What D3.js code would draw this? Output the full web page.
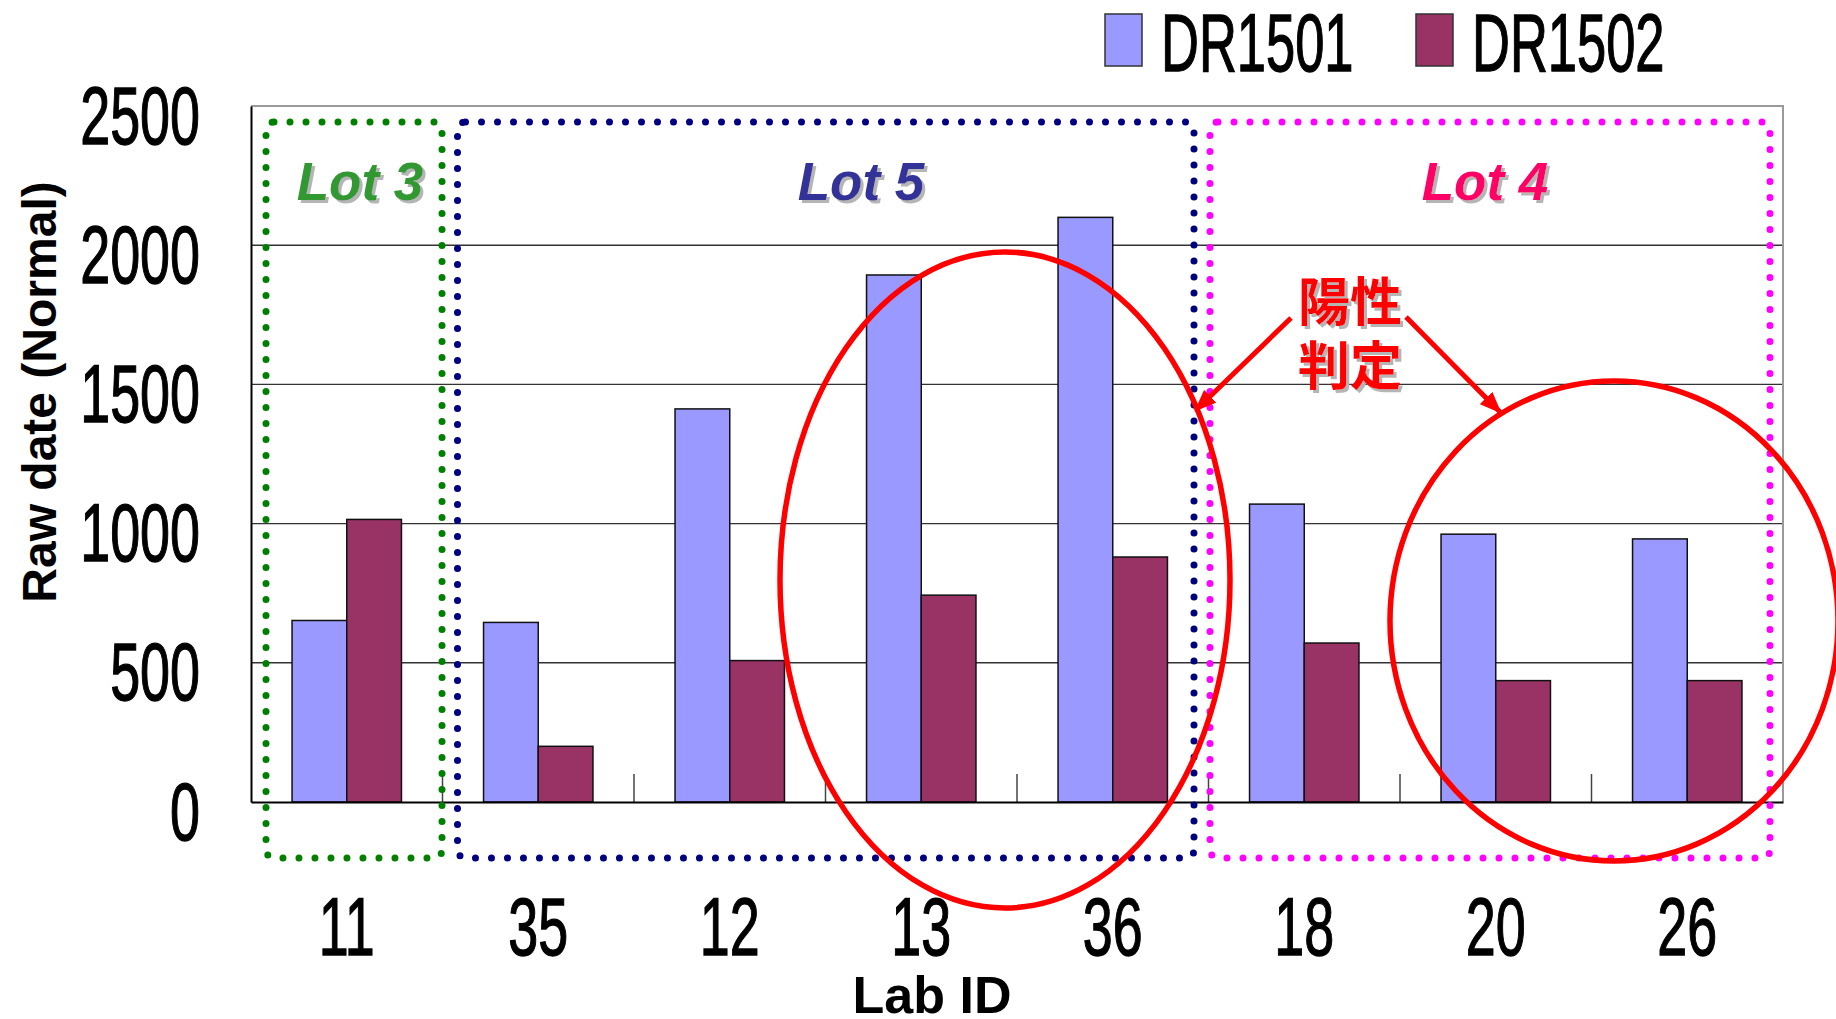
<!DOCTYPE html>
<html>
<head>
<meta charset="utf-8">
<script src="https://cdn.jsdelivr.net/npm/d3@7"></script>
<style>
  html, body { margin: 0; padding: 0; background: #fff; }
  svg { display: block; }
</style>
</head>
<body>
<svg id="chart" width="1836" height="1019"></svg>
<script>
// Lab results per lab, two DR allele probes
const categories = ['11', '35', '12', '13', '36', '18', '20', '26'];
const seriesNames = ['DR1501', 'DR1502'];
const dr1501 = [652, 645, 1412, 1893, 2100, 1070, 962, 945];
const dr1502 = [1015, 200, 508, 743, 880, 571, 436, 436];
const yTicks = [0, 500, 1000, 1500, 2000, 2500];
const seriesColors = ['#9999FF', '#993366'];

// Lot groupings of the labs
const lotNames = ['Lot 3', 'Lot 5', 'Lot 4'];
const lotFirst = ['11', '35', '18'];
const lotLast = ['11', '36', '26'];
const lotBoxColors = ['#008000', '#000080', '#FF00FF'];
const lotTextColors = ['#339933', '#333399', '#FF0066'];

const svg = d3.select('#chart');
const plot = { left: 251, right: 1783, top: 106, bottom: 802 };

const x0 = d3.scaleBand().domain(categories).range([plot.left, plot.right]).padding(0);
const x1 = d3.scaleBand().domain(seriesNames).range([0, x0.bandwidth()])
  .paddingInner(0).paddingOuter(0.75);
const y = d3.scaleLinear().domain([0, 2500]).range([plot.bottom, plot.top]);

const rows = categories.map((c, i) => ({ cat: c, values: [dr1501[i], dr1502[i]] }));

const numFont = '"Liberation Sans", Arial, sans-serif';
const narrow = 0.665;

// Soft grey drop shadow used by the annotation labels
const defs = svg.append('defs');
const shadow = defs.append('filter').attr('id', 'textShadow')
  .attr('x', '-10%').attr('y', '-10%').attr('width', '130%').attr('height', '130%');
shadow.append('feOffset').attr('in', 'SourceAlpha').attr('dx', 3).attr('dy', 3).attr('result', 'off');
shadow.append('feFlood').attr('flood-color', '#b5b5b5').attr('result', 'grey');
shadow.append('feComposite').attr('in', 'grey').attr('in2', 'off').attr('operator', 'in').attr('result', 'sh');
const merge = shadow.append('feMerge');
merge.append('feMergeNode').attr('in', 'sh');
merge.append('feMergeNode').attr('in', 'SourceGraphic');

// Gridlines
svg.append('g').selectAll('line')
  .data(yTicks.filter(t => t > 0 && t < 2500))
  .join('line')
  .attr('x1', plot.left).attr('x2', plot.right)
  .attr('y1', d => y(d)).attr('y2', d => y(d))
  .attr('stroke', '#333').attr('stroke-width', 1.4);

// Plot frame: top and right edges
svg.append('path')
  .attr('d', `M${plot.left},${y(2500)}H${plot.right}V${plot.bottom}`)
  .attr('fill', 'none').attr('stroke', '#9a9a9a').attr('stroke-width', 2);

// Bars
const groups = svg.append('g').selectAll('g')
  .data(rows).join('g')
  .attr('transform', d => `translate(${x0(d.cat)},0)`);
groups.selectAll('rect')
  .data(d => d.values.map((v, k) => ({ key: seriesNames[k], v, k })))
  .join('rect')
  .attr('x', d => x1(d.key))
  .attr('width', x1.bandwidth())
  .attr('y', d => y(d.v))
  .attr('height', d => y(0) - y(d.v))
  .attr('fill', d => seriesColors[d.k])
  .attr('stroke', '#111').attr('stroke-width', 1.5);

// Category separator ticks rising from the x axis
svg.append('g').selectAll('line')
  .data(categories.slice(1))
  .join('line')
  .attr('x1', d => x0(d)).attr('x2', d => x0(d))
  .attr('y1', plot.bottom).attr('y2', plot.bottom - 28)
  .attr('stroke', '#444').attr('stroke-width', 1.5);

// Y axis
const yAxis = svg.append('g')
  .attr('transform', `translate(${plot.left},0)`)
  .call(d3.axisLeft(y).tickValues(yTicks).tickSize(0).tickFormat(d3.format('d')));
yAxis.select('.domain').attr('stroke', '#000').attr('stroke-width', 2);
yAxis.selectAll('text')
  .attr('x', 0).attr('dy', null)
  .attr('transform', `translate(-51,37) scale(${narrow},1)`)
  .attr('text-anchor', 'end')
  .attr('font-family', numFont).attr('font-size', 81)
  .attr('fill', '#000').attr('stroke', '#000').attr('stroke-width', 1.3);

// X axis
const xAxis = svg.append('g')
  .attr('transform', `translate(0,${plot.bottom})`)
  .call(d3.axisBottom(x0).tickSize(0));
xAxis.select('.domain').attr('stroke', '#000').attr('stroke-width', 2);
xAxis.selectAll('text')
  .attr('y', 0).attr('dy', null)
  .attr('transform', `translate(0,153) scale(${narrow},1)`)
  .attr('text-anchor', 'middle')
  .attr('font-family', numFont).attr('font-size', 81)
  .attr('fill', '#000').attr('stroke', '#000').attr('stroke-width', 1.3);

// Axis titles
svg.append('text')
  .attr('transform', 'translate(56,392) rotate(-90)')
  .attr('text-anchor', 'middle')
  .attr('font-family', numFont).attr('font-weight', 'bold').attr('font-size', 48)
  .text('Raw date (Normal)');
svg.append('text')
  .attr('x', 932).attr('y', 1013)
  .attr('text-anchor', 'middle')
  .attr('font-family', numFont).attr('font-weight', 'bold').attr('font-size', 52)
  .text('Lab ID');

// Legend
const legendX = [1105, 1416];
const legend = svg.append('g').selectAll('g')
  .data(seriesNames).join('g')
  .attr('transform', (d, i) => `translate(${legendX[i]},0)`);
legend.append('rect')
  .attr('x', 0).attr('y', 14).attr('width', 37).attr('height', 52)
  .attr('fill', (d, i) => seriesColors[i])
  .attr('stroke', '#333').attr('stroke-width', 1.5);
legend.append('text')
  .attr('transform', `translate(56,71) scale(0.64,1)`)
  .attr('font-family', numFont).attr('font-size', 82)
  .attr('stroke', '#000').attr('stroke-width', 1.3)
  .text(d => d);

// Dotted lot boxes
const boxPad = [[15, 0.5], [15, 14.5], [1.5, 13]];
const boxTop = 122, boxBottom = 858;
const lotG = svg.append('g');
lotNames.forEach((name, i) => {
  const xl = x0(lotFirst[i]) + boxPad[i][0];
  const xr = x0(lotLast[i]) + x0.bandwidth() - boxPad[i][1];
  lotG.append('rect')
    .attr('x', xl).attr('y', boxTop)
    .attr('width', xr - xl).attr('height', boxBottom - boxTop)
    .attr('rx', 8)
    .attr('fill', 'none')
    .attr('stroke', lotBoxColors[i]).attr('stroke-width', 7)
    .attr('stroke-linecap', 'round')
    .attr('stroke-dasharray', '0 16');
});

// Lot labels with drop shadow
const lotLabelX = [360, 861, 1485];
lotNames.forEach((name, i) => {
  svg.append('text')
    .attr('x', lotLabelX[i]).attr('y', 200)
    .attr('text-anchor', 'middle')
    .attr('font-family', numFont).attr('font-weight', 'bold')
    .attr('font-style', 'italic').attr('font-size', 53)
    .attr('fill', lotTextColors[i])
    .attr('filter', 'url(#textShadow)')
    .text(name);
});

// Highlight ellipses
const ann = svg.append('g');
ann.append('ellipse')
  .attr('cx', 1005).attr('cy', 580).attr('rx', 225).attr('ry', 328)
  .attr('fill', 'none').attr('stroke', '#FF0000').attr('stroke-width', 5.5);
ann.append('ellipse')
  .attr('cx', 1614).attr('cy', 621).attr('rx', 224).attr('ry', 240)
  .attr('fill', 'none').attr('stroke', '#FF0000').attr('stroke-width', 5.5);

// Arrows pointing at the ellipses
defs.append('marker')
  .attr('id', 'arrowHead')
  .attr('markerUnits', 'userSpaceOnUse')
  .attr('viewBox', '0 0 20 16')
  .attr('refX', 18).attr('refY', 8)
  .attr('markerWidth', 22).attr('markerHeight', 18)
  .attr('orient', 'auto')
  .append('path').attr('d', 'M0,0 L20,8 L0,16 Z').attr('fill', '#FF0000');
const arrows = [
  [1291, 318, 1196, 410],
  [1406, 317, 1500, 412]
];
ann.selectAll('line.arrow')
  .data(arrows).join('line')
  .attr('class', 'arrow')
  .attr('x1', d => d[0]).attr('y1', d => d[1])
  .attr('x2', d => d[2]).attr('y2', d => d[3])
  .attr('stroke', '#FF0000').attr('stroke-width', 5)
  .attr('marker-end', 'url(#arrowHead)');

// Annotation text: positive judgement
const noteLines = ['陽性', '判定'];
const noteY = [298, 362];
noteLines.forEach((t, i) => {
  svg.append('text')
    .attr('x', 1350).attr('y', noteY[i])
    .attr('text-anchor', 'middle')
    .attr('dominant-baseline', 'central')
    .attr('font-family', '"Noto Sans CJK JP", "Noto Sans CJK SC", sans-serif')
    .attr('font-weight', 'bold').attr('font-size', 52)
    .attr('fill', '#FF0000')
    .attr('filter', 'url(#textShadow)')
    .text(t);
});
</script>
</body>
</html>
